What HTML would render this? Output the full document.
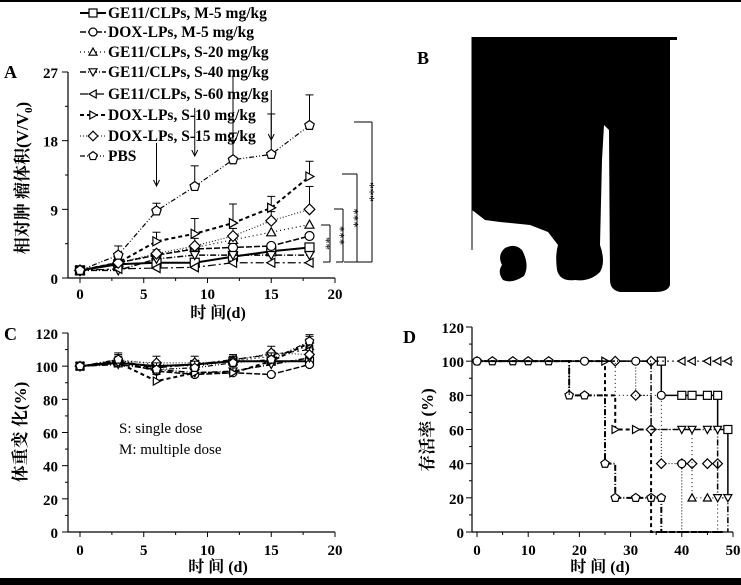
<!DOCTYPE html>
<html><head><meta charset="utf-8"><style>
html,body{margin:0;padding:0;background:#fff;}
svg{display:block;font-family:"Liberation Serif","Noto Serif CJK SC",serif;}
.b{font-weight:bold}
</style></head><body>
<svg id="s" width="741" height="585" viewBox="0 0 741 585" xmlns="http://www.w3.org/2000/svg">
<rect x="0" y="0" width="741" height="2" fill="#000"/>
<rect x="0" y="578" width="741" height="7" fill="#000"/>
<text x="417" y="64" font-size="18" class="b">B</text>
<path d="M472 37 L677 37 L677 40 L670 40 L670 285 Q668 292 655 292 L620 292 Q610 290 610 280 L609 130 L604 125 L602 160 L600 245 Q606 262 600 272 Q590 282 575 280 Q560 282 557 270 Q555 255 558 245 L548 232 L530 225 L500 222 L485 220 L476 213 L472 210 Z" fill="#000"/>
<path d="M472 37 L472 250" stroke="#000" stroke-width="1"/>
<path d="M505 248 Q515 243 522 250 Q530 265 524 276 Q512 284 503 280 Q497 272 502 265 Q497 255 505 248 Z" fill="#000"/>
<g id="g"></g>
</svg>
<script>
const g=document.getElementById('g');let h='';
function L(x1,y1,x2,y2,w,d){h+=`<line x1="${x1}" y1="${y1}" x2="${x2}" y2="${y2}" stroke="#000" stroke-width="${w||1}" ${d?`stroke-dasharray="${d}"`:''}/>`;}
function T(x,y,t,s,a,extra){h+=`<text x="${x}" y="${y}" font-size="${s}" text-anchor="${a||'start'}" font-weight="bold" ${extra||''}>${t}</text>`;}
function M(type,x,y,r){r=r||4.5;const st='fill="#fff" stroke="#000" stroke-width="1.2"';
 if(type=='sq')h+=`<rect x="${x-r}" y="${y-r}" width="${2*r}" height="${2*r}" ${st}/>`;
 else if(type=='ci')h+=`<circle cx="${x}" cy="${y}" r="${r}" ${st}/>`;
 else{let p;if(type=='up')p=[[0,-r],[r,r*.8],[-r,r*.8]];else if(type=='dn')p=[[0,r],[r,-r*.8],[-r,-r*.8]];else if(type=='lt')p=[[-r,0],[r*.8,-r],[r*.8,r]];else if(type=='rt')p=[[r,0],[-r*.8,-r],[-r*.8,r]];else if(type=='di')p=[[0,-r*1.2],[r*1.2,0],[0,r*1.2],[-r*1.2,0]];else{p=[];for(let i=0;i<5;i++){const a=-Math.PI/2+i*2*Math.PI/5;p.push([r*1.1*Math.cos(a),r*1.1*Math.sin(a)]);}}
 h+=`<polygon points="${p.map(q=>(x+q[0])+','+(y+q[1])).join(' ')}" ${st}/>`;}}
const S=[['sq','none','GE11/CLPs, M-5 mg/kg',2],['ci','6 2','DOX-LPs, M-5 mg/kg',1.5],['up','1 3','GE11/CLPs, S-20 mg/kg',1.2],['dn','6 2 1 2','GE11/CLPs, S-40 mg/kg',1.5],['lt','8 3 2 3','GE11/CLPs, S-60 mg/kg',1.2],['rt','4 3','DOX-LPs, S-10 mg/kg',2],['di','1 2','DOX-LPs, S-15 mg/kg',1],['pe','5 2 1 2 1 2','PBS',1.2]];
const ly=[13,32,52,72,94,115,136,156];
S.forEach((s,i)=>{L(80,ly[i],106,ly[i],s[3],s[1]=='none'?'':s[1]);M(s[0],93,ly[i],4);T(108,ly[i]+5,s[2],15.5);});
T(4,78,'A',18);
L(68,72,68,278,1.2);L(68,278,335,278,1.2);
const ax=d=>80+d*12.75, ay=v=>278-v*(206/27);
[0,9,18,27].forEach(v=>{L(62,ay(v),68,ay(v));T(58,ay(v)+6,v,15,'end');});
[4.5,13.5,22.5].forEach(v=>L(65,ay(v),68,ay(v)));
[0,5,10,15,20].forEach(d=>{L(ax(d),278,ax(d),283);T(ax(d),299,d,15,'middle');});
[2.5,7.5,12.5,17.5].forEach(d=>L(ax(d),278,ax(d),281));
T(218,318,'时  间(d)',16,'middle');
h+=`<text transform="translate(28,178) rotate(-90)" font-size="17" text-anchor="middle" font-weight="bold">相对肿 瘤体积(V/V<tspan font-size="11" dy="4">0</tspan><tspan dy="-4">)</tspan></text>`;
const days=[0,3,6,9,12,15,18];
const A=[[1,1.8,2,2,2.8,3.5,4],[1,2,3,3.8,4,4.2,5.5],[1,2,3,4,5,6,7],[1,1,2.5,3,3,3,3],[1,1.2,1.3,1.4,2,2,2],[1,2,4.8,5.8,7.2,9.2,13.3],[1,2,3.2,4.2,5.5,7.5,9],[1,3,8.8,12,15.5,16.2,20]];
const E=[[0,0,0,0,0,0,0],[0,0,0,0,0,0,0],[0,0,0,0,0,0,0],[0,0,0,0,0,0,0],[0,0,0,0,0,0,0],[0,1,1.2,2,2.5,1.5,2],[0,0.5,0.5,1,1,1.2,3],[0,1.2,1,2.7,3.5,5.3,4]];
S.forEach((s,i)=>{const pts=days.map((d,j)=>ax(d)+','+ay(A[i][j])).join(' ');h+=`<polyline points="${pts}" fill="none" stroke="#000" stroke-width="${s[3]}" ${s[1]!='none'?`stroke-dasharray="${s[1]}"`:''}/>`;
 days.forEach((d,j)=>{if(E[i][j]){L(ax(d),ay(A[i][j]),ax(d),ay(A[i][j]+E[i][j]));L(ax(d)-4,ay(A[i][j]+E[i][j]),ax(d)+4,ay(A[i][j]+E[i][j]));}});
 days.forEach((d,j)=>M(s[0],ax(d),ay(A[i][j])));});
[[6,173,186],[9,138,156],[12,105,144],[15,120,140]].forEach(a=>{const x=ax(a[0]);L(x,a[1]-30,x,a[2]);h+=`<path d="M${x-3} ${a[2]-6} L${x} ${a[2]} L${x+3} ${a[2]-6}" fill="none" stroke="#000"/>`;});
[[321,330,225,'**',334],[334,343,209,'***',348],[342,357,174,'***',362],[354,372,122,'***',378]].forEach(b=>{L(b[0],b[2],b[1],b[2]);L(b[1],b[2],b[1],262);L(b[1],262,b[0]+2,262);h+=`<text transform="translate(${b[4]},${(b[2]+262)/2}) rotate(-90)" font-size="13" text-anchor="middle">${b[3]}</text>`;});
T(4,340,'C',18);
L(68,333,68,532,1.2);L(68,532,335,532,1.2);
const cy=v=>532-v*(199/120);
[0,20,40,60,80,100,120].forEach(v=>{L(62,cy(v),68,cy(v));T(58,cy(v)+6,v,15,'end');});
[10,30,50,70,90,110].forEach(v=>L(65,cy(v),68,cy(v)));
[0,5,10,15,20].forEach(d=>{L(ax(d),532,ax(d),537);T(ax(d),555,d,15,'middle');});
[2.5,7.5,12.5,17.5].forEach(d=>L(ax(d),532,ax(d),535));
T(218,572,'时  间  (d)',16,'middle');
h+=`<text transform="translate(26,432) rotate(-90)" font-size="17" text-anchor="middle" font-weight="bold">体重变 化(%)</text>`;
h+=`<text x="119" y="433" font-size="15">S: single dose</text><text x="119" y="454" font-size="15">M: multiple dose</text>`;
const C=[[100,102,100,101,103,103,103],[100,103,97,95,96,95,101],[100,104,101,100,103,106,112],[100,101,98,96,97,101,105],[100,103,99,101,104,107,110],[100,102,91,96,96,103,114],[100,103,102,102,103,108,107],[100,104,98,99,102,104,115]];
S.forEach((s,i)=>{const pts=days.map((d,j)=>ax(d)+','+cy(C[i][j])).join(' ');h+=`<polyline points="${pts}" fill="none" stroke="#000" stroke-width="${s[3]}" ${s[1]!='none'?`stroke-dasharray="${s[1]}"`:''}/>`;
 days.forEach((d,j)=>{if(j>0&&i>4){L(ax(d),cy(C[i][j]),ax(d),cy(C[i][j]+4));L(ax(d)-4,cy(C[i][j]+4),ax(d)+4,cy(C[i][j]+4));}M(s[0],ax(d),cy(C[i][j]),4);});});
T(403,343,'D',18);
L(472,327,472,532,1.2);L(472,532,733,532,1.2);
const dx=d=>477+d*5.12, dy=v=>532-v*(205/120);
[0,20,40,60,80,100,120].forEach(v=>{L(466,dy(v),472,dy(v));T(464,dy(v)+6,v,15,'end');});
[10,30,50,70,90,110].forEach(v=>L(469,dy(v),472,dy(v)));
[0,10,20,30,40,50].forEach(d=>{L(dx(d),532,dx(d),537);T(dx(d),555,d,15,'middle');});
[5,15,25,35,45].forEach(d=>L(dx(d),532,dx(d),535));
T(600,572,'时  间  (d)',16,'middle');
h+=`<text transform="translate(433,430) rotate(-90)" font-size="17" text-anchor="middle" font-weight="bold">存活率 (%)</text>`;
function KM(pts,type,w,da,mk){let d='M'+dx(pts[0][0])+' '+dy(pts[0][1]);for(let i=1;i<pts.length;i++){d+=` H${dx(pts[i][0])} V${dy(pts[i][1])}`;}h+=`<path d="${d}" fill="none" stroke="#000" stroke-width="${w}" ${da?`stroke-dasharray="${da}"`:''}/>`;mk.forEach(m=>M(type,dx(m[0]),dy(m[1]),4));}
KM([[0,100],[18,100],[18,80],[25,80],[25,40],[27,40],[27,20],[36,20],[36,0],[48,0]],'pe',2,'6 2 1 2',[[0,100],[3,100],[7,100],[10,100],[14,100],[18,80],[21,80],[25,40],[27,20],[31,20],[34,20],[36,20]]);
KM([[0,100],[25,100],[25,80],[27,80],[27,60],[34,60],[34,0],[48,0]],'rt',2,'4 3',[[25,100],[27,60],[31,60]]);
KM([[0,100],[36,100],[36,80],[47,80],[47,60],[49,60],[49,20]],'sq',1.5,'',[[36,100],[40,80],[42,80],[45,80],[47,80],[49,60]]);
KM([[0,100],[36,100],[50,100]],'lt',1,'2 3',[[40,100],[42,100],[45,100],[47,100],[49,100]]);
KM([[0,100],[31,100],[31,80],[34,80],[34,60],[36,60],[36,40],[40,40],[40,0]],'di',1,'1 2',[[27,100],[31,80],[34,60],[36,40],[40,40],[42,40],[45,40],[47,40],[34,100]]);
KM([[0,100],[27,100],[27,80],[36,80],[36,60],[42,60],[42,20],[47,20],[47,0]],'up',1,'1 3',[[42,20],[45,20]]);
KM([[0,100],[34,100],[34,60],[47,60],[47,20],[49,20],[49,0]],'dn',1.5,'6 2 1 2',[[40,60],[42,60],[45,60],[47,60],[47,20],[49,20]]);
KM([[0,100],[18,100],[18,80]],'ci',1,'6 2',[[0,100],[21,100],[31,100],[36,80],[40,40]]);
g.innerHTML=h;
</script>
</body></html>
